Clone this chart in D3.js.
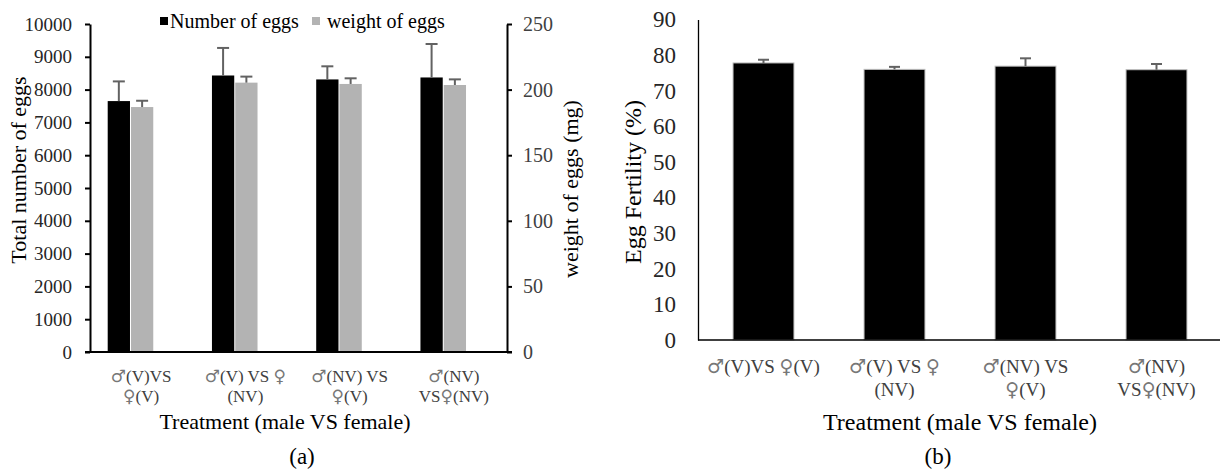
<!DOCTYPE html>
<html>
<head>
<meta charset="utf-8">
<script src="https://cdn.jsdelivr.net/npm/d3@7"></script>
<style>
  body { margin: 0; background: #fff; }
  svg, svg text { font-family: "Liberation Serif", "Times New Roman", serif; }
  svg tspan.sym { font-family: "DejaVu Sans", sans-serif; }
</style>
</head>
<body>
<div id="chart"></div>
<script>
// treatments (each label split in the lines shown under the axis)
var labelsA = [["♂(V)VS", "♀(V)"], ["♂(V) VS ♀", "(NV)"], ["♂(NV) VS", "♀(V)"], ["♂(NV)", "VS♀(NV)"]];
var labelsB = [["♂(V)VS ♀(V)"], ["♂(V) VS ♀", "(NV)"], ["♂(NV) VS", "♀(V)"], ["♂(NV)", "VS♀(NV)"]];

// panel (a)
var eggNumber = [7650, 8430, 8310, 8370];
var eggNumberErr = [600, 840, 400, 1020];
var eggWeight = [186.7, 205.3, 204.3, 203.5];
var eggWeightErr = [4.8, 4.6, 4.3, 4.3];
var numberTicks = [0, 1000, 2000, 3000, 4000, 5000, 6000, 7000, 8000, 9000, 10000];
var weightTicks = [0, 50, 100, 150, 200, 250];

// panel (b)
var fertility = [77.8, 76.0, 76.9, 75.9];
var fertilityErr = [0.9, 0.7, 2.2, 1.6];
var fertilityTicks = [0, 10, 20, 30, 40, 50, 60, 70, 80, 90];

var W = 1220, H = 469;
var errColor = "#626262";

var svg = d3.select("#chart").append("svg")
    .attr("width", W)
    .attr("height", H);

// writes a label line, putting the sex symbols in a font that has them
function writeLine(t, str, x, y) {
  var first = true;
  str.split(/([♂♀])/).forEach(function(part) {
    if (part === "") return;
    var sp = t.append("tspan").text(part);
    if (first) { sp.attr("x", x).attr("y", y); first = false; }
    if (part === "♂" || part === "♀") {
      sp.attr("class", "sym").style("font-size", "1em").attr("fill", "#777");
    }
  });
}

// ---------- panel (a) ----------
var a = {left: 90, right: 507, top: 24, bottom: 352};
var cats = d3.range(labelsA.length);

var x0 = d3.scaleBand().domain(cats).range([a.left, a.right])
    .paddingInner(0.33).paddingOuter(0.165);
// Excel leaves room for a third (empty) slot in each cluster
var x1 = d3.scaleBand().domain(["number", "weight", "empty"]).range([0, x0.bandwidth()]);

var yN = d3.scaleLinear().domain([0, 10000]).range([a.bottom, a.top]);
var yW = d3.scaleLinear().domain([0, 250]).range([a.bottom, a.top]);

var gA = svg.append("g");

var series = [
  {key: "number", vals: eggNumber, errs: eggNumberErr, y: yN, fill: "#000"},
  {key: "weight", vals: eggWeight, errs: eggWeightErr, y: yW, fill: "#b3b3b3"}
];

series.forEach(function(s) {
  gA.selectAll(".bar-" + s.key)
    .data(s.vals)
    .enter().append("rect")
      .attr("x", function(d, i) { return x0(i) + x1(s.key) + 0.5; })
      .attr("width", x1.bandwidth() - 1)
      .attr("y", function(d) { return s.y(d); })
      .attr("height", function(d) { return a.bottom - s.y(d); })
      .attr("fill", s.fill);

  var eb = gA.selectAll(".err-" + s.key)
    .data(s.vals)
    .enter().append("g");
  eb.append("line")
      .attr("x1", function(d, i) { return x0(i) + x1(s.key) + x1.bandwidth() / 2; })
      .attr("x2", function(d, i) { return x0(i) + x1(s.key) + x1.bandwidth() / 2; })
      .attr("y1", function(d) { return s.y(d); })
      .attr("y2", function(d, i) { return s.y(d + s.errs[i]); })
      .attr("stroke", errColor).attr("stroke-width", 2);
  eb.append("line")
      .attr("x1", function(d, i) { return x0(i) + x1(s.key) + x1.bandwidth() / 2 - 6; })
      .attr("x2", function(d, i) { return x0(i) + x1(s.key) + x1.bandwidth() / 2 + 6; })
      .attr("y1", function(d, i) { return s.y(d + s.errs[i]); })
      .attr("y2", function(d, i) { return s.y(d + s.errs[i]); })
      .attr("stroke", errColor).attr("stroke-width", 2);
});

// left axis
var axL = gA.append("g")
    .attr("transform", "translate(" + a.left + ",0)")
    .call(d3.axisLeft(yN).tickValues(numberTicks).tickFormat(d3.format("d"))
      .tickSize(5).tickPadding(13).tickSizeOuter(0));
axL.attr("font-family", null);
axL.select(".domain").attr("stroke", "#000").attr("stroke-width", 2);
axL.selectAll(".tick line").attr("stroke", "#000").attr("stroke-width", 2);
axL.selectAll(".tick text").style("font-size", "19px").attr("fill", "#262626");

// right axis
var axR = gA.append("g")
    .attr("transform", "translate(" + a.right + ",0)")
    .call(d3.axisRight(yW).tickValues(weightTicks).tickFormat(d3.format("d"))
      .tickSize(5).tickPadding(11).tickSizeOuter(0));
axR.attr("font-family", null);
axR.select(".domain").attr("stroke", "#000").attr("stroke-width", 2);
axR.selectAll(".tick line").attr("stroke", "#000").attr("stroke-width", 2);
axR.selectAll(".tick text").style("font-size", "20px").attr("fill", "#404040");

// x axis line
gA.append("line")
    .attr("x1", a.left - 5).attr("x2", a.right + 5)
    .attr("y1", a.bottom).attr("y2", a.bottom)
    .attr("stroke", "#000").attr("stroke-width", 2);

// category labels
gA.selectAll(".xlab")
  .data(labelsA)
  .enter().append("g")
    .each(function(lines, i) {
      var g = d3.select(this);
      lines.forEach(function(l, j) {
        var t = g.append("text")
          .attr("text-anchor", "middle")
          .style("font-size", "17px")
          .attr("fill", "#404040");
        writeLine(t, l, x0(i) + x0.bandwidth() / 2 - 1, a.bottom + 30 + j * 20);
      });
    });

gA.append("text")
    .attr("x", 285).attr("y", 429)
    .attr("text-anchor", "middle")
    .style("font-size", "22px")
    .text("Treatment (male VS female)");

gA.append("text")
    .attr("x", 302).attr("y", 464)
    .attr("text-anchor", "middle")
    .style("font-size", "23px")
    .text("(a)");

gA.append("text")
    .attr("transform", "translate(26,170) rotate(-90)")
    .attr("text-anchor", "middle")
    .style("font-size", "22px")
    .text("Total number of eggs");

gA.append("text")
    .attr("transform", "translate(578,189) rotate(-90)")
    .attr("text-anchor", "middle")
    .style("font-size", "22px")
    .text("weight of eggs (mg)");

// legend
var legend = [{name: "Number of eggs", fill: "#000", x: 160}, {name: "weight of eggs", fill: "#b3b3b3", x: 312}];
var lg = gA.selectAll(".legend").data(legend).enter().append("g")
    .attr("transform", function(d) { return "translate(" + d.x + ",17)"; });
lg.append("rect").attr("width", 8).attr("height", 8).attr("fill", function(d) { return d.fill; });
lg.append("text")
    .attr("x", function(d, i) { return i === 0 ? 10 : 15; })
    .attr("y", 11)
    .style("font-size", "20px")
    .text(function(d) { return d.name; });

// ---------- panel (b) ----------
var b = {left: 698, right: 1222, top: 19, bottom: 340};

var xb = d3.scaleBand().domain(cats).range([b.left, b.right])
    .paddingInner(0.535).paddingOuter(0.2675);
var yb = d3.scaleLinear().domain([0, 90]).range([b.bottom, b.top + 0.5]);

var gB = svg.append("g");

gB.selectAll(".fbar")
  .data(fertility)
  .enter().append("rect")
    .attr("x", function(d, i) { return xb(i); })
    .attr("width", xb.bandwidth())
    .attr("y", function(d) { return yb(d); })
    .attr("height", function(d) { return b.bottom - yb(d); })
    .attr("fill", "#000")
    .attr("stroke", "#bfbfbf")
    .attr("stroke-width", 1);

var ebB = gB.selectAll(".ferr").data(fertility).enter().append("g");
ebB.append("line")
    .attr("x1", function(d, i) { return xb(i) + xb.bandwidth() / 2; })
    .attr("x2", function(d, i) { return xb(i) + xb.bandwidth() / 2; })
    .attr("y1", function(d) { return yb(d); })
    .attr("y2", function(d, i) { return yb(d + fertilityErr[i]); })
    .attr("stroke", errColor).attr("stroke-width", 2);
ebB.append("line")
    .attr("x1", function(d, i) { return xb(i) + xb.bandwidth() / 2 - 5.5; })
    .attr("x2", function(d, i) { return xb(i) + xb.bandwidth() / 2 + 5.5; })
    .attr("y1", function(d, i) { return yb(d + fertilityErr[i]); })
    .attr("y2", function(d, i) { return yb(d + fertilityErr[i]); })
    .attr("stroke", errColor).attr("stroke-width", 2);

var axB = gB.append("g")
    .attr("transform", "translate(" + b.left + ",0)")
    .call(d3.axisLeft(yb).tickValues(fertilityTicks).tickFormat(d3.format("d"))
      .tickSize(0).tickPadding(22).tickSizeOuter(0));
axB.attr("font-family", null);
axB.select(".domain").attr("stroke", "#000").attr("stroke-width", 1.3);
axB.selectAll(".tick text").style("font-size", "23px").attr("fill", "#262626");

gB.append("line")
    .attr("x1", b.left).attr("x2", W)
    .attr("y1", b.bottom).attr("y2", b.bottom)
    .attr("stroke", "#000").attr("stroke-width", 1.5);

gB.selectAll(".xlab")
  .data(labelsB)
  .enter().append("g")
    .each(function(lines, i) {
      var g = d3.select(this);
      lines.forEach(function(l, j) {
        var t = g.append("text")
          .attr("text-anchor", "middle")
          .style("font-size", "19px")
          .attr("fill", "#404040");
        writeLine(t, l, xb(i) + xb.bandwidth() / 2, b.bottom + 33 + j * 23);
      });
    });

gB.append("text")
    .attr("x", 960).attr("y", 430)
    .attr("text-anchor", "middle")
    .style("font-size", "24px")
    .text("Treatment (male VS female)");

gB.append("text")
    .attr("x", 938).attr("y", 464)
    .attr("text-anchor", "middle")
    .style("font-size", "23px")
    .text("(b)");

gB.append("text")
    .attr("transform", "translate(641,182) rotate(-90)")
    .attr("text-anchor", "middle")
    .style("font-size", "24px")
    .text("Egg Fertility (%)");
</script>
</body>
</html>
